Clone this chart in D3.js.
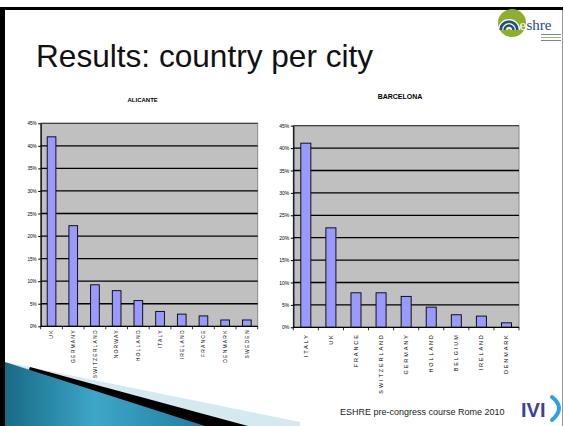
<!DOCTYPE html>
<html>
<head>
<meta charset="utf-8">
<script src="https://d3js.org/d3.v7.min.js"></script>
<style>
  body { margin: 0; background: #fff; }
  svg { display: block; }
</style>
</head>
<body>
<div id="slide"></div>
<script>
// data
var alicanteCountries = ["UK", "GERMANY", "SWITZERLAND", "NORWAY", "HOLLAND", "ITALY", "IRELAND", "FRANCE", "DENMARK", "SWEDEN"];
var alicanteValues = [42.0, 22.3, 9.2, 7.9, 5.7, 3.3, 2.7, 2.3, 1.4, 1.4];

var barcelonaCountries = ["ITALY", "UK", "FRANCE", "SWITZERLAND", "GERMANY", "HOLLAND", "BELGIUM", "IRELAND", "DENMARK"];
var barcelonaValues = [41.1, 22.2, 7.7, 7.7, 6.9, 4.5, 2.8, 2.5, 1.0];

var percentTicks = [0, 5, 10, 15, 20, 25, 30, 35, 40, 45];

var W = 564, H = 426;
var svg = d3.select("#slide").append("svg")
    .attr("width", W).attr("height", H);

svg.append("rect").attr("width", W).attr("height", H).attr("fill", "#fff");

// ---- slide decoration ----
var defs = svg.append("defs");
var grad = defs.append("linearGradient").attr("id", "teal")
    .attr("x1", "0").attr("y1", "0").attr("x2", "1").attr("y2", "0");
grad.append("stop").attr("offset", "0%").attr("stop-color", "#176a86");
grad.append("stop").attr("offset", "45%").attr("stop-color", "#3ea6c8");
grad.append("stop").attr("offset", "100%").attr("stop-color", "#1f7fa0");

svg.append("path").attr("d", "M5,362 L300,422 L300,426 L5,426 Z").attr("fill", "#d4e9f0");
svg.append("path").attr("d", "M30,367 L248,426 L5,426 Z").attr("fill", "#000");
svg.append("path").attr("d", "M5,362 L205,426 L5,426 Z").attr("fill", "url(#teal)");

// frame
svg.append("rect").attr("x", 0).attr("y", 7).attr("width", 5).attr("height", H - 7).attr("fill", "#000");
svg.append("rect").attr("x", 0).attr("y", 7).attr("width", 563).attr("height", 3).attr("fill", "#000");
svg.append("line").attr("x1", 562.5).attr("x2", 562.5).attr("y1", 10).attr("y2", H)
    .attr("stroke", "#9a9a9a").attr("stroke-width", 1);

// eshre logo
var logo = svg.append("g");
logo.append("circle").attr("cx", 512).attr("cy", 23).attr("r", 14).attr("fill", "#8fae2a");
// swirl: nested arcs, blue with white gaps
[[10, "#fff", 2.2], [8.5, "#1d4f8c", 2.6], [6, "#fff", 1.6], [4.5, "#1d4f8c", 2.4], [2.2, "#fff", 1.4]].forEach(function(a) {
    var r = a[0], cx = 509, cy = 30;
    logo.append("path")
        .attr("d", "M" + (cx - r) + "," + cy + " A" + r + "," + r + " 0 0 1 " + (cx + r) + "," + cy)
        .attr("fill", "none").attr("stroke", a[1]).attr("stroke-width", a[2]);
});
logo.append("text").attr("x", 519.5).attr("y", 30)
    .attr("font-family", "Liberation Serif, DejaVu Serif, serif").attr("font-size", 15)
    .attr("fill", "#fff").text("e");
logo.append("text").attr("x", 526.5).attr("y", 30)
    .attr("font-family", "Liberation Serif, DejaVu Serif, serif").attr("font-size", 15)
    .attr("fill", "#27498c").text("shre");
[[34, "#6d87b5"], [37, "#a8b84a"], [40, "#6d87b5"]].forEach(function(l) {
    logo.append("rect").attr("x", 541).attr("y", l[0]).attr("width", 20).attr("height", 1).attr("fill", l[1]);
});

// title
svg.append("text").attr("x", 36).attr("y", 67)
    .attr("font-family", "Liberation Sans, Arial, sans-serif").attr("font-size", 31.6)
    .attr("fill", "#111").text("Results: country per city");

// footer
svg.append("text").attr("x", 340).attr("y", 415)
    .attr("font-family", "Liberation Sans, Arial, sans-serif").attr("font-size", 9)
    .attr("fill", "#222").text("ESHRE pre-congress course Rome 2010");
svg.append("text").attr("x", 521).attr("y", 417)
    .attr("font-family", "Liberation Sans, Arial, sans-serif").attr("font-size", 20).attr("font-weight", "bold")
    .attr("fill", "#3d3f9d").text("IVI");
svg.append("path").attr("d", "M552,397 Q566,408 552,420")
    .attr("fill", "none").attr("stroke", "#2aa3dc").attr("stroke-width", 4).attr("stroke-linecap", "round");

// ---- charts ----
function drawChart(cfg) {
    var g = svg.append("g");
    var x = d3.scaleBand().domain(cfg.countries).range([cfg.left, cfg.right]).padding(0);
    var y = d3.scaleLinear().domain([0, 45]).range([cfg.bottom, cfg.top]);

    // plot area
    g.append("rect")
        .attr("x", cfg.left).attr("y", cfg.top)
        .attr("width", cfg.right - cfg.left).attr("height", cfg.bottom - cfg.top)
        .attr("fill", "#c0c0c0").attr("stroke", "#8a8a8a").attr("stroke-width", 1);

    // gridlines
    g.append("g").selectAll("line")
        .data(percentTicks.filter(function(d) { return d > 0; }))
        .enter().append("line")
        .attr("x1", cfg.left).attr("x2", cfg.right)
        .attr("y1", function(d) { return y(d); })
        .attr("y2", function(d) { return y(d); })
        .attr("stroke", function(d) { return d == 45 ? "#444" : "#000"; })
        .attr("stroke-width", 1.3);

    // bars
    var bw = x.bandwidth() * 0.4;
    g.append("g").selectAll("rect")
        .data(cfg.values)
        .enter().append("rect")
        .attr("x", function(d, i) { return x(cfg.countries[i]) + x.bandwidth() / 2 - bw / 2; })
        .attr("y", function(d) { return y(d); })
        .attr("width", bw)
        .attr("height", function(d) { return y(0) - y(d); })
        .attr("fill", "#9999ff").attr("stroke", "#000").attr("stroke-width", 0.9);

    // y axis
    var yAxis = g.append("g")
        .attr("transform", "translate(" + cfg.left + ",0)")
        .call(d3.axisLeft(y).tickValues(percentTicks).tickSize(2.5).tickSizeOuter(0).tickPadding(1.5)
            .tickFormat(function(d) { return d + "%"; }));
    yAxis.select(".domain").attr("stroke", "#000").attr("stroke-width", 1.2);
    yAxis.selectAll(".tick line").attr("stroke", "#000");
    yAxis.selectAll("text")
        .attr("font-family", "Liberation Sans Narrow, Liberation Sans, Arial, sans-serif")
        .attr("font-size", cfg.yFont).attr("fill", "#000");

    // x axis line and boundary ticks
    g.append("line")
        .attr("x1", cfg.left).attr("x2", cfg.right)
        .attr("y1", cfg.bottom).attr("y2", cfg.bottom)
        .attr("stroke", "#000").attr("stroke-width", 1.3);
    var bounds = cfg.countries.map(function(c) { return x(c); }).concat([cfg.right]);
    g.append("g").selectAll("line")
        .data(bounds)
        .enter().append("line")
        .attr("x1", function(d) { return d; }).attr("x2", function(d) { return d; })
        .attr("y1", cfg.bottom).attr("y2", cfg.bottom + 3)
        .attr("stroke", "#000").attr("stroke-width", 0.8);

    // category labels
    g.append("g").selectAll("text")
        .data(cfg.countries)
        .enter().append("text")
        .attr("transform", function(d) {
            return "translate(" + (x(d) + x.bandwidth() / 2) + "," + (cfg.bottom + cfg.labelGap) + ") rotate(-90)";
        })
        .attr("text-anchor", "end").attr("dy", "0.35em")
        .attr("font-family", "Liberation Sans, Arial, sans-serif")
        .attr("font-size", cfg.xFont).attr("letter-spacing", cfg.xSpacing)
        .attr("fill", "#000")
        .text(function(d) { return d; });

    // chart title
    g.append("text")
        .attr("x", cfg.titleX).attr("y", cfg.titleY)
        .attr("text-anchor", "middle")
        .attr("font-family", "Liberation Sans Narrow, Liberation Sans, Arial, sans-serif")
        .attr("font-size", cfg.titleFont).attr("font-weight", "bold")
        .attr("fill", "#000")
        .text(cfg.title);
}

drawChart({
    title: "ALICANTE", countries: alicanteCountries, values: alicanteValues,
    left: 40.7, right: 257.7, top: 123.3, bottom: 326.3,
    titleX: 142.7, titleY: 101.5, titleFont: 6,
    yFont: 4.6, xFont: 5, xSpacing: 1.2, labelGap: 3
});

drawChart({
    title: "BARCELONA", countries: barcelonaCountries, values: barcelonaValues,
    left: 293.3, right: 519, top: 125.7, bottom: 327.3,
    titleX: 400, titleY: 98.5, titleFont: 7,
    yFont: 5, xFont: 5.5, xSpacing: 1.9, labelGap: 6
});
</script>
</body>
</html>
